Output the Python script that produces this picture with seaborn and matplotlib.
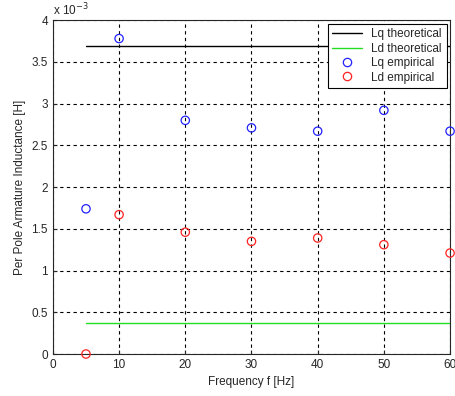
import matplotlib
matplotlib.use("Agg")
import matplotlib.pyplot as plt
from matplotlib.lines import Line2D
import seaborn as sns
import pandas as pd

# frequencies and inductances [H]
freq = [5, 10, 20, 30, 40, 50, 60]
lq_emp = [1.74e-3, 3.78e-3, 2.80e-3, 2.71e-3, 2.67e-3, 2.92e-3, 2.67e-3]
ld_emp = [0.0, 1.67e-3, 1.46e-3, 1.35e-3, 1.39e-3, 1.31e-3, 1.21e-3]
lq_theory = 3.69e-3
ld_theory = 0.368e-3

sns.set_style("ticks")
plt.rcParams['font.family'] = ['Liberation Sans', 'DejaVu Sans']

colors = {'Lq theoretical': 'black', 'Ld theoretical': '#22dd22',
          'Lq empirical': '#2222ff', 'Ld empirical': '#ff2222'}

theory = pd.DataFrame({
    'f': [freq[0], freq[-1]] * 2,
    'L': [lq_theory, lq_theory, ld_theory, ld_theory],
    'name': ['Lq theoretical'] * 2 + ['Ld theoretical'] * 2,
})
emp = pd.DataFrame({
    'f': freq * 2,
    'L': lq_emp + ld_emp,
    'name': ['Lq empirical'] * len(freq) + ['Ld empirical'] * len(freq),
})

fig = plt.figure(figsize=(4.56, 3.96), dpi=100)
ax = fig.add_axes([0.116, 0.106, 0.871, 0.843])

sns.lineplot(data=theory, x='f', y='L', hue='name', ax=ax,
             palette={k: colors[k] for k in ['Lq theoretical', 'Ld theoretical']},
             linewidth=1.0, legend=False)
sns.scatterplot(data=emp, x='f', y='L', hue='name', ax=ax,
                palette={k: colors[k] for k in ['Lq empirical', 'Ld empirical']},
                marker='o', s=36, linewidth=0.9, legend=False, zorder=5)
# hollow circles like matlab
for coll in ax.collections:
    fc = coll.get_facecolors()
    coll.set_edgecolors(fc)
    coll.set_facecolors('none')
    coll.set_clip_on(False)

ax.set_xlim(0, 60)
ax.set_ylim(0, 4e-3)
ax.set_xticks(range(0, 61, 10))
ax.set_yticks([i * 0.5e-3 for i in range(9)])
ax.set_yticklabels(['0', '0.5', '1', '1.5', '2', '2.5', '3', '3.5', '4'])
ax.grid(True, color='black', linestyle=(0, (3, 3)), linewidth=0.8)
ax.tick_params(labelsize=8.5, direction='in', length=3)
for sp in ax.spines.values():
    sp.set_visible(True)
    sp.set_linewidth(0.8)
ax.text(0.0, 1.005, r'x 10$^{-3}$', transform=ax.transAxes, fontsize=8.5,
        ha='left', va='bottom')
ax.set_xlabel('Frequency f [Hz]', fontsize=8.5)
ax.set_ylabel('Per Pole Armature Inductance [H]', fontsize=8.5)

order = ['Lq theoretical', 'Ld theoretical', 'Lq empirical', 'Ld empirical']
handles = [
    Line2D([], [], color=colors[order[0]], lw=1.0),
    Line2D([], [], color=colors[order[1]], lw=1.0),
    Line2D([], [], ls='none', marker='o', mfc='none', mec=colors[order[2]], ms=6, mew=0.9),
    Line2D([], [], ls='none', marker='o', mfc='none', mec=colors[order[3]], ms=6, mew=0.9),
]
leg = ax.legend(handles, order, loc='upper right',
                fontsize=8.5, frameon=True, fancybox=False, framealpha=1,
                edgecolor='black', handlelength=2.5, borderaxespad=0.3,
                labelspacing=0.2)
leg.get_frame().set_linewidth(0.8)
leg.set_zorder(10)

fig.savefig('out.png', dpi=100)
